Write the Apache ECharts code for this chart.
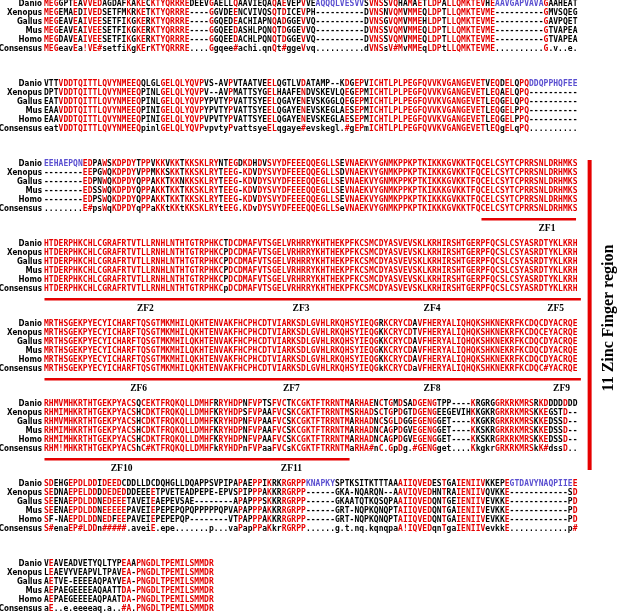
<!DOCTYPE html>
<html><head><meta charset="utf-8">
<script src="https://cdn.jsdelivr.net/npm/echarts@6/dist/echarts.min.js"></script>
<style>html,body{margin:0;padding:0;background:#fff}#c{width:619px;height:613px}</style>
</head><body><div id="c"></div>
<script>
// ---------- data ----------
const species = ['Danio', 'Xenopus', 'Gallus', 'Mus', 'Homo', 'Consensus'];

const block1 = [
'MEGGPTEAVVEDAGDAFKAKECKTYQRRREDEEVGAELLQAAVIEQAQAEVEPVVEAQQQLVESVVSVNSSVQHAMAETLDPALLQMKTEVHEAAVGAPVAVAGAAHEAT',
'MEGEMAEDIVEDSETFMKRKETKTYQRRRE----GGVDEENCVIVQSQTDICEVPH----------DVNSNVQMVMMEQLDPTLLQMKTEVME----------GMVSQEG',
'MEGEAVEAIVEESETFIKGKERKTYQRRRE----GGQEDEACHIAPNQADGGEVVQ----------DVNSGVQMVMMEHLDPTLLQMKTEVME----------GAVPQET',
'MEGEAVEAIVEESETFIKGKERKTYQRRRE----GGQEEDASHLPQNQTDGGEVVQ----------DVNSSVQMVMMEQLDPTLLQMKTEVME----------GTVAPEA',
'MEGDAVEAIVEESETFIKGKERKTYQRRRE----GGQEEDACHLPQNQTDGGEVVQ----------DVNSSVQMVMMEQLDPTLLQMKTEVME----------GTVAPEA',
'MEGeavEa!VE#setfiKgKErKTYQRRRE....Ggqee#achi.qnQt#ggeVvq..........dVNSsV#MvMMEqLDPtLLQMKTEVME..........G.v..e.'
];
const block2 = [
'VTTVDDTQITTLQVYNMEEQQLGLGELQLYQVPVS-AVPVTAATVEELQGTLVDATAMP--KDGEPVICHTLPLPEGFQVVKVGANGEVETVEQDELQPQDDQPPHQFEE',
'DPTVDDTQITTLQVYNMEEQPINLGELQLYQVPV--AVPMATTSYGELHAAFENDVSKEVLQEGEPMICHTLPLPEGFQVVKVGANGEVETLEQAELQPQ----------',
'EATVDDTQITTLQVYNMEEQPINLGELQLYQVPYPVTYPVATTSYEELQGAYENEVSKGGLQEGEPMICHTLPLPEGFQVVKVGANGEVETLEQGELQPQ----------',
'EAAVDDTQITTLQVYNMEEQPINIGELQLYQVPYPVTYPVATTSYEELQGAYENEVSKEGLAESEPMICHTLPLPEGFQVVKVGANGEVETLEQGELPPQ----------',
'EAAVDDTQITTLQVYNMEEQPINIGELQLYQVPVPVTYPVATTSYEELQGAYENEVSKEGLAESEPMICHTLPLPEGFQVVKVGANGEVETLEQGELPPQ----------',
'eatVDDTQITTLQVYNMEEQpinlGELQLYQVPvpvtyPvattsyeELqgaye#evskegl.#gEPmICHTLPLPEGFQVVKVGANGEVETlEQgELqPQ..........'
];
const block3 = [
'EEHAEPQNEDPAWSKDPDYTPPVKKVKKTKKSKLRYNTEGDKDHDVSVYDFEEEQQEGLLSEVNAEKVYGNMKPPKPTKIKKKGVKKTFQCELCSYTCPRRSNLDRHMKS',
'--------EEPGWQKDPDYVPPMKKSKKTKKSKLRYTEEG-KDVDYSVYDFEEEQQEGLLSDVNAEKVYGNMKPPKPTKIKKKGVKKTFQCELCSYTCPRRSNLDRHMKS',
'--------EDPNWQKDPDYQPPAKKTKKNKKSKLRYTEEG-KDVDYSVYDFEEEQQEGLLSEVNAEKVYGNMKPPKPTKIKKKGVKKTFQCELCSYTCPRRSNLDRHMKS',
'--------EDSSWQKDPDYQPPAKKTKKTKKSKLRYTEEG-KDVDYSVYDFEEEQQEGLLSEVNAEKVYGNMKPPKPTKIKKKGVKKTFQCELCSYTCPRRSNLDRHMKS',
'--------EDPSWQKDPDYQPPAKKTKKTKKSKLRYTEEG-KDVDYSVYDFEEEQQEGLLSEVNAEKVYGNMKPPKPTKIKKKGVKKTFQCELCSYTCPRRSNLDRHMKS',
'........E#psWqKDPDYqPPaKKtKKtKKSKLRYtEEG.KDvDYSVYDFEEEQQEGLLSeVNAEKVYGNMKPPKPTKIKKKGVKKTFQCELCSYTCPRRSNLDRHMKS'
];
const block4 = [
'HTDERPHKCHLCGRAFRTVTLLRNHLNTHTGTRPHKCTDCDMAFVTSGELVRHRRYKHTHEKPFKCSMCDYASVEVSKLKRHIRSHTGERPFQCSLCSYASRDTYKLKRH',
'HTDERPHKCHLCGRAFRTVTLLRNHLNTHTGTRPHKCPDCDMAFVTSGELVRHRRYKHTHEKPFKCSMCDYASVEVSKLKRHIRSHTGERPFQCSLCSYASRDTYKLKRH',
'HTDERPHKCHLCGRAFRTVTLLRNHLNTHTGTRPHKCPDCDMAFVTSGELVRHRRYKHTHEKPFKCSMCDYASVEVSKLKRHIRSHTGERPFQCSLCSYASRDTYKLKRH',
'HTDERPHKCHLCGRAFRTVTLLRNHLNTHTGTRPHKCPDCDMAFVTSGELVRHRRYKHTHEKPFKCSMCDYASVEVSKLKRHIRSHTGERPFQCSLCSYASRDTYKLKRH',
'HTDERPHKCHLCGRAFRTVTLLRNHLNTHTGTRPHKCPDCDMAFVTSGELVRHRRYKHTHEKPFKCSMCDYASVEVSKLKRHIRSHTGERPFQCSLCSYASRDTYKLKRH',
'HTDERPHKCHLCGRAFRTVTLLRNHLNTHTGTRPHKCpDCDMAFVTSGELVRHRRYKHTHEKPFKCSMCDYASVEVSKLKRHIRSHTGERPFQCSLCSYASRDTYKLKRH'
];
const block5 = [
'MRTHSGEKPYECYICHARFTQSGTMKMHILQKHTENVAKFHCPHCDTVIARKSDLGVHLRKQHSYIEQGRKCRYCDAVFHERYALIQHQKSHKNEKRFKCDQCDYACRQE',
'MRTHSGEKPYECYICHARFTQSGTMKMHILQKHTENVAKFHCPHCDTVIARKSDLGVHLRKQHSYIEQGKKCRYCDTVFHERYALIQHQKSHKNEKRFKCDQCEYACRQE',
'MRTHSGEKPYECYICHARFTQSGTMKMHILQKHTENVAKFHCPHCDTVIARKSDLGVHLRKQHSYIEQGKKCRYCDAVFHERYALIQHQKSHKNEKRFKCDQCDYACRQE',
'MRTHSGEKPYECYICHARFTQSGTMKMHILQKHTENVAKFHCPHCDTVIARKSDLGVHLRKQHSYIEQGKKCRYCDAVFHERYALIQHQKSHKNEKRFKCDQCDYACRQE',
'MRTHSGEKPYECYICHARFTQSGTMKMHILQKHTENVAKFHCPHCDTVIARKSDLGVHLRKQHSYIEQGKKCRYCDAVFHERYALIQHQKSHKNEKRFKCDQCDYACRQE',
'MRTHSGEKPYECYICHARFTQSGTMKMHILQKHTENVAKFHCPHCDTVIARKSDLGVHLRKQHSYIEQGkKCRYCDaVFHERYALIQHQKSHKNEKRFKCDQC#YACRQE'
];
const block6 = [
'RHMVMHKRTHTGEKPYACSQCEKTFRQKQLLDMHFRRYHDPNFVPTSFVCTKCGKTFTRRNTMARHAENCTGMDSADGENGTPP----KRGRGGRKRKMRSRKDDDDDDD',
'RHMIMHKRTHTGEKPYACSHCDKTFRQKQLLDMHFKRYHDPSFVPAAFVCSKCGKTFTRRNTMSRHADSCTGPDGTDGENGEEGEVIHKKGKRGRKRKMRSKKEGSTD--',
'RHMVMHKRTHTGEKPYACSHCDKTFRQKQLLDMHFKRYHDPNFVPAAFVCSKCGKTFTRRNTMARHADNCSGLDGGEGENGGET----KKGKRGRKRKMRSKKEDSSD--',
'RHMIMHKRTHTGEKPYACSHCDKTFRQKQLLDMHFKRYHDPNFVPAAFVCSKCGKTFTRRNTMARHADNCAGPDGVEGENGGET----KKSKRGRKRKMRSKKEDSSD--',
'RHMIMHKRTHTGEKPYACSHCDKTFRQKQLLDMHFKRYHDPNFVPAAFVCSKCGKTFTRRNTMARHADNCAGPDGVEGENGGET----KKSKRGRKRKMRSKKEDSSD--',
'RHM!MHKRTHTGEKPYACShC#KTFRQKQLLDMHFkRYHDPnFVPaaFVCsKCGKTFTRRNTMaRHA#nC.GpDg.#GENGget....KkgkrGRKRKMRSkK#dssD..'
];
const block7 = [
'SDEHGEPDLDDIDEEDCDDLLDCDQHGLLDQAPPSVPIPAPAEPPIKRKRGRPPKNAPKYSPTKSITKTTTAAAIIQVEDESTGAIENIIVKKEPEGTDAVYNAQPIIEE',
'SEDNAEPELDDDDEDEDDDEEEETPVETEADPEPE-EPVSPIPPPAKKRRGRPP------GKA-NQARQN--AAVIQVEDHNTRAIENIIVQVKKE------------SD',
'SEENAEPDLDDNEDEEETAVEIEAEPEVSAE--------APAPPPSKKRRGRPP------GKAATQTKQSQPAAIIQVEDQNTGEIENIIVEVKKE------------PD',
'SEENAEPDLDDNEEEEEPAVEIEPEPEPQPQPPPPPQPVAPAPPPAKKRRGRPP------GRT-NQPKQNQPTAIIQVEDQNTGAIENIIVEVKKE------------PD',
'SF-NAEPDLDDNEDFEEPAVEIEPEPEPQP--------VTPAPPPAKKRRGRPP------GRT-NQPKQNQPTAIIQVEDQNTGAIENIIVEVKKE------------PD',
'S#enaEP#LDDn#####.aveiE.epe.......p...vaPapPPaKkrRGRPP......g.t.nq.kqnqpaA!IQVEDqnTgaIENIIVevkkE............p#'
];
const block8 = [
'VEAVEADVETYQLTYPEAAPNGDLTPEMILSMMDR',
'LEAEVYVEAPVLTPAVEA-PNGDLTPEMILSMMDR',
'AETVE-EEEEAQPAYVEA-PNGDLTPEMILSMMDR',
'AEPAEGEEEEAQAATTDA-PNGDLTPEMILSMMDR',
'AEPAEGEEEEAQPAATDA-PNGDLTPEMILSMMDR',
'aE..e.eeeeaq.a..#A.PNGDLTPEMILSMMDR'
];
const blocks = [block1, block2, block3, block4, block5, block6, block7, block8];

// highlighted (blue) Danio insertions: [block, row, firstCol, lastCol] (1-based columns)
const blueSpans = [[0,0,57,66],[0,0,94,103],[1,0,101,110],[2,0,1,8],[6,0,55,60],[6,0,97,109]];

// zinc finger annotations
const zfNames  = ['ZF1','ZF2','ZF3','ZF4','ZF5','ZF6','ZF7','ZF8','ZF9','ZF10','ZF11'];
const zfBlock  = [2, 3, 3, 3, 3, 4, 4, 4, 4, 5, 5];
const zfCol    = [103.7, 20.9, 53, 80, 105.5, 19.5, 51, 80, 106.7, 16, 51];
const zfLines  = [[2, 90.2, 109.7], [3, 0.1, 110.7], [4, 0.1, 110.7], [5, 0.1, 63]];
const regionLabel = '11 Zinc Finger region';

// ---------- layout / style ----------
const RED = '#e60000', BLUE = '#5a4fd0', BLACK = '#000000';
const ROW_PX = 9, BLOCK_STEP = 80 / 9, Y0_PX = 3.3;
const groups = {'!': 'IV', '$': 'LM', '%': 'FY', '#': 'NDQEBZ'};

function colourOf(b, r, c, ch, cons) {
  for (const s of blueSpans) if (s[0] === b && s[1] === r && c >= s[2] && c <= s[3]) return BLUE;
  if (r === 5) return (/[A-Z]/.test(ch) || groups[ch]) ? RED : BLACK;
  if (ch === '-' ) return BLACK;
  if (/[A-Z]/.test(cons) && ch === cons) return RED;
  if (groups[cons] && groups[cons].indexOf(ch) >= 0) return RED;
  return BLACK;
}

const charPts = [], charInfo = [];
blocks.forEach((blk, b) => {
  blk.forEach((seq, r) => {
    const cons = blk[5];
    for (let i = 0; i < seq.length; i++) {
      const ch = seq[i];
      charPts.push([i + 0.5, b * BLOCK_STEP + r]);
      charInfo.push([ch, colourOf(b, r, i + 1, ch, cons[i] || '.')]);
    }
  });
});

const labelPts = [], labelTxt = [];
blocks.forEach((blk, b) => species.forEach((s, r) => { labelPts.push([0, b * BLOCK_STEP + r]); labelTxt.push(s); }));

const zfPts = zfNames.map((n, i) => [zfCol[i], zfBlock[i] * BLOCK_STEP + 5 + 20 / 9]);
const linePts = zfLines.map(l => [l[1], l[2], l[0] * BLOCK_STEP + 5 + 11 / 9]);
const bracket = [[112.5, 17.41, 51.86]];
const regionPt = [[116.4, 34.97]];

const yMin = -Y0_PX / ROW_PX, yMax = yMin + 613 / ROW_PX;

const chart = echarts.init(document.getElementById('c'), null, {renderer: 'canvas'});
chart.setOption({
  animation: false,
  backgroundColor: '#ffffff',
  grid: {left: 44, top: 0, width: 110 * 4.85, height: 613},
  xAxis: {type: 'value', min: 0, max: 110, show: false},
  yAxis: {type: 'value', min: yMin, max: yMax, inverse: true, show: false},
  series: [
    {
      type: 'custom', data: charPts, clip: false, silent: true,
      renderItem: function (params, api) {
        const p = api.coord([api.value(0), api.value(1)]);
        const d = charInfo[params.dataIndex];
        return {type: 'text', x: p[0], y: p[1], scaleX: 0.84,
          style: {text: d[0], fill: d[1], font: 'bold 9.5px "DejaVu Sans Mono"', align: 'center', verticalAlign: 'middle'}};
      }
    },
    {
      type: 'custom', data: labelPts, clip: false, silent: true,
      renderItem: function (params, api) {
        const p = api.coord([api.value(0), api.value(1)]);
        return {type: 'text', x: p[0] - 2, y: p[1], scaleX: 0.8,
          style: {text: labelTxt[params.dataIndex], fill: BLACK, font: 'bold 9px "DejaVu Sans"', align: 'right', verticalAlign: 'middle'}};
      }
    },
    {
      type: 'custom', data: linePts, clip: false, silent: true,
      renderItem: function (params, api) {
        const p0 = api.coord([api.value(0), api.value(2)]);
        const p1 = api.coord([api.value(1), api.value(2)]);
        return {type: 'rect', shape: {x: p0[0], y: p0[1] - 1.3, width: p1[0] - p0[0], height: 2.6}, style: {fill: RED}};
      }
    },
    {
      type: 'custom', data: zfPts, clip: false, silent: true,
      renderItem: function (params, api) {
        const p = api.coord([api.value(0), api.value(1)]);
        return {type: 'text', x: p[0], y: p[1],
          style: {text: zfNames[params.dataIndex], fill: BLACK, font: 'bold 9.5px "Liberation Serif"', align: 'center', verticalAlign: 'middle'}};
      }
    },
    {
      type: 'custom', data: bracket, clip: false, silent: true,
      renderItem: function (params, api) {
        const p0 = api.coord([api.value(0), api.value(1)]);
        const p1 = api.coord([api.value(0), api.value(2)]);
        return {type: 'rect', shape: {x: p0[0] - 2, y: p0[1], width: 4, height: p1[1] - p0[1]}, style: {fill: RED}};
      }
    },
    {
      type: 'custom', data: regionPt, clip: false, silent: true,
      renderItem: function (params, api) {
        const p = api.coord([api.value(0), api.value(1)]);
        return {type: 'text', x: p[0], y: p[1], rotation: Math.PI / 2,
          style: {text: regionLabel, fill: BLACK, font: 'bold 16px "Liberation Serif"', align: 'center', verticalAlign: 'middle'}};
      }
    }
  ]
});
</script></body></html>
